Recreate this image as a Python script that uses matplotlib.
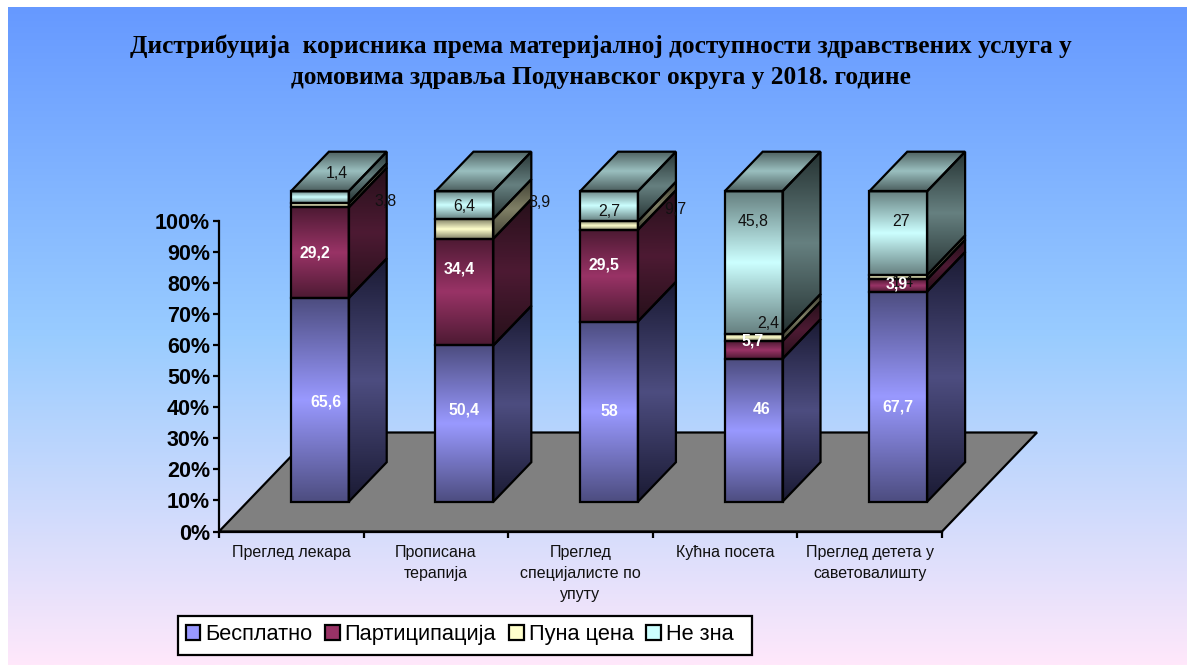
import numpy as np
import matplotlib
matplotlib.use("Agg")
import matplotlib.pyplot as plt
from matplotlib.patches import Polygon, Patch, Rectangle
from matplotlib.colors import to_rgb

# ---- data ----
categories = ["Преглед лекара", "Прописана\nтерапија", "Преглед\nспецијалисте по\nупуту",
              "Кућна посета", "Преглед детета у\nсаветовалишту"]
series_names = ["Бесплатно", "Партиципација", "Пуна цена", "Не зна"]
besplatno = [65.6, 50.4, 58, 46, 67.7]
participacija = [29.2, 34.4, 29.5, 5.7, 3.9]
puna_cena = [1.4, 6.4, 2.7, 2.4, 1.4]
ne_zna = [3.8, 8.9, 9.7, 45.8, 27]
y_ticks = list(range(0, 101, 10))
title = "Дистрибуција  корисника према материјалној доступности здравствених услуга у\nдомовима здравља Подунавског округа у 2018. године"

# ---- style / layout ----
W, H = 1187, 665
AX_L, AX_R, AX_B, AX_T = 219, 942, 531.5, 221
px_x = (AX_R - AX_L) / 5
px_y = (AX_B - AX_T) / 100
DEPTH_X = 95 / px_x       # floor depth in data units
DEPTH_Y = 99 / px_y
BAR_W = 0.40
D0, D1 = 0.30, 0.70       # bar front/back position in the floor depth

front_mid = ["#9999FF", "#993366", "#FFFFCC", "#CCFFFF"]
front_edge = ["#4D4D80", "#4D1A33", "#808066", "#668080"]
side_mid = ["#4D4D80", "#4D1A33", "#808066", "#668080"]
side_edge = ["#1A1A33", "#26101A", "#404033", "#263333"]
top_mid, top_edge = "#9ABFBF", "#4D6060"
label_colors = ["white", "white", "#111111", "#111111"]
label_bold = [True, True, False, False]
label_z = [32, 32, 30, 30]
# label nudges from the front-face centre of each segment, (right, up) in px
nudges = [
    [(6, -2), (0, 14), (0, 0), (8, 21), (0, -10)],
    [(-5, 0), (-5, 23), (-5, 11), (-1, 9), (-1, 2)],
    [(17, 32), (0, 22), (0, 14), (15, 14), (5, -5)],
    [(66, -4), (75, 3), (66, -3), (-1, 41), (3, 12)],
]

fig = plt.figure(figsize=(W / 100, H / 100), dpi=100, facecolor="white")

# background gradient panel
bg = fig.add_axes([8 / W, 0, (W - 8) / W, (H - 7) / H], zorder=0)
bg.axis("off")
stops = np.array([to_rgb("#6699FF"), to_rgb("#99CCFF"), to_rgb("#FFE8FA")])
s = np.linspace(0, 1, 512)
bg_img = np.stack([np.interp(s, [0, .5, 1], stops[:, i]) for i in range(3)], axis=1)[:, None, :]
bg.imshow(bg_img, aspect="auto", interpolation="bilinear")

ax = fig.add_axes([AX_L / W, (H - AX_B) / H, (AX_R - AX_L) / W, (AX_B - AX_T) / H], zorder=1)
ax.patch.set_visible(False)
ax.set_xlim(0, 5)
ax.set_ylim(0, 100)
ax.set_autoscale_on(False)

LW = 1.6


def grad_poly(verts, c_edge, c_mid, z):
    verts = np.array(verts, dtype=float)
    poly = Polygon(verts, closed=True, facecolor="none", edgecolor="black", lw=LW,
                   joinstyle="miter", clip_on=False, zorder=z + 0.1)
    ax.add_patch(poly)
    e, m = np.array(to_rgb(c_edge)), np.array(to_rgb(c_mid))
    t = 1 - np.abs(2 * np.linspace(0, 1, 128) - 1)
    img = (e[None, :] * (1 - t)[:, None] + m[None, :] * t[:, None])[:, None, :]
    x0, x1 = verts[:, 0].min(), verts[:, 0].max()
    y0, y1 = verts[:, 1].min(), verts[:, 1].max()
    im = ax.imshow(img, extent=(x0, x1, y0, y1), aspect="auto", interpolation="bilinear", zorder=z)
    im.set_clip_box(fig.bbox)
    im.set_clip_path(poly)


def proj(x, y, d):
    return (x + d * DEPTH_X, y + d * DEPTH_Y)


# floor
ax.add_patch(Polygon([proj(0, 0, 0), proj(5, 0, 0), proj(5, 0, 1), proj(0, 0, 1)], closed=True,
                     facecolor="#808080", edgecolor="black", lw=LW, clip_on=False, zorder=1))

# stacked 3D bars (100 % stacked)
data = np.array([besplatno, participacija, puna_cena, ne_zna], dtype=float)
pct = data / data.sum(axis=0) * 100
z = 2
for c in range(len(categories)):
    xl = c + 0.5 - BAR_W / 2
    xr = c + 0.5 + BAR_W / 2
    base = 0.0
    for k in range(4):
        top = base + pct[k, c]
        grad_poly([proj(xl, base, D0), proj(xr, base, D0), proj(xr, top, D0), proj(xl, top, D0)],
                  front_edge[k], front_mid[k], z)
        grad_poly([proj(xr, base, D0), proj(xr, base, D1), proj(xr, top, D1), proj(xr, top, D0)],
                  side_edge[k], side_mid[k], z)
        if k == 3:
            grad_poly([proj(xl, top, D0), proj(xr, top, D0), proj(xr, top, D1), proj(xl, top, D1)],
                      top_edge, top_mid, z)
        base = top
    z += 1

# value labels
for k in range(4):
    base = np.cumsum(pct, axis=0)[k] - pct[k]
    for c in range(len(categories)):
        xy = proj(c + 0.5, base[c] + pct[k, c] / 2, D0)
        ax.annotate(f"{data[k, c]:g}".replace(".", ","), xy=xy, xytext=nudges[k][c],
                    textcoords="offset pixels", ha="center", va="center", fontsize=11.4,
                    color=label_colors[k], fontweight="bold" if label_bold[k] else "normal",
                    family="Liberation Sans", annotation_clip=False, zorder=label_z[k])

# axes
for side in ("top", "right"):
    ax.spines[side].set_visible(False)
for side in ("left", "bottom"):
    ax.spines[side].set_linewidth(LW)
    ax.spines[side].set_zorder(20)
ax.set_yticks(y_ticks, [f"{v}%" for v in y_ticks], fontsize=15.5, fontweight="bold",
              family="Liberation Sans")
ax.set_xticks(range(6), [""] * 6)
ax.set_xticks([i + 0.5 for i in range(5)], categories, minor=True, fontsize=11.5,
              family="Liberation Sans", color="#111111", linespacing=1.48, va="top")
ax.tick_params(axis="both", which="major", length=4.5, width=LW, color="black", pad=2)
ax.tick_params(axis="x", which="minor", length=0, pad=10)

# title
fig.text(601 / W, 1 - 61.5 / H, title, ha="center", va="center", family="Liberation Serif",
         fontweight="bold", fontsize=18.25, color="black", linespacing=1.46, zorder=40)

# legend
fig.add_artist(Rectangle((178 / W, 1 - 655 / H), (752.5 - 178) / W, 39 / H,
                         transform=fig.transFigure, facecolor="white", edgecolor="black",
                         lw=LW, zorder=39))
handles = [Patch(facecolor=front_mid[k], edgecolor="black", lw=LW) for k in range(4)]
leg = fig.legend(handles, series_names, loc="center left",
                 bbox_to_anchor=(185.5 / W, 1 - 634.5 / H), bbox_transform=fig.transFigure,
                 ncol=4, frameon=False, borderaxespad=0, borderpad=0, handlelength=0.68,
                 handleheight=0.64, handletextpad=0.23, columnspacing=0.57,
                 prop={"family": "Liberation Sans", "size": 15.7})
leg.set_zorder(40)

fig.savefig("out.png", dpi=100)
